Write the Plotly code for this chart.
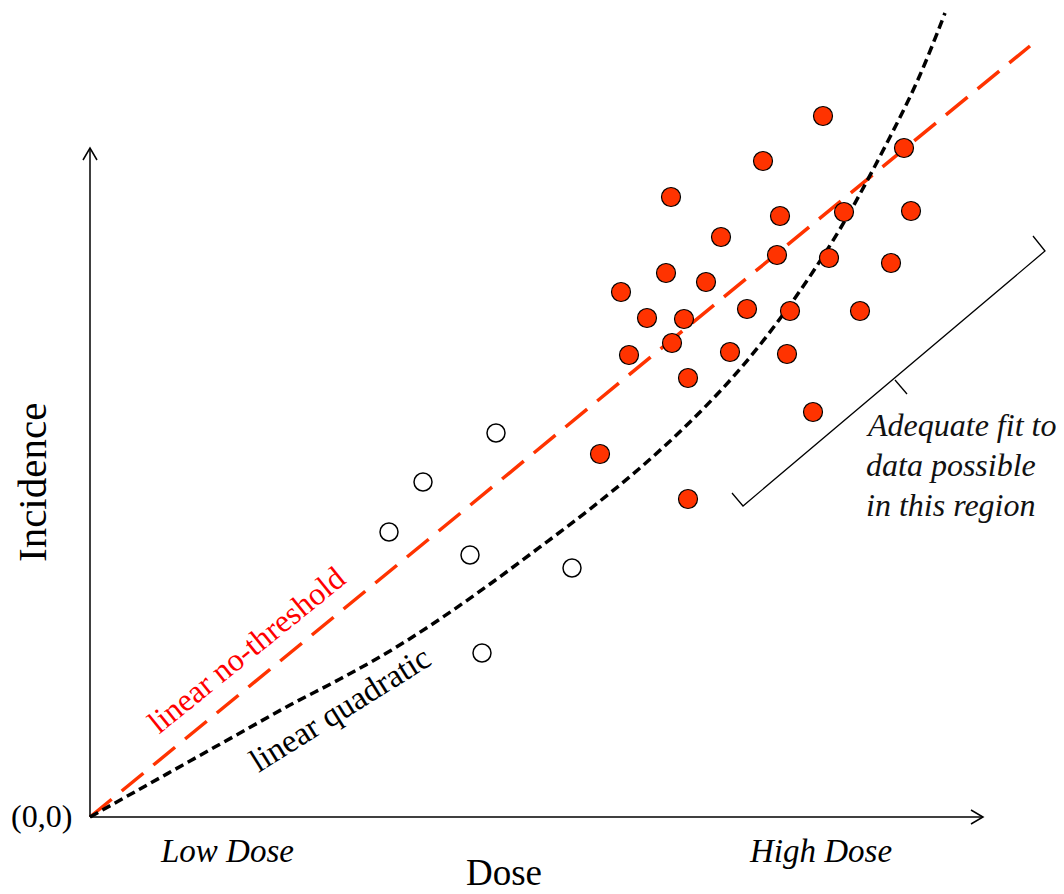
import plotly.graph_objects as go

# ---- data (dose, incidence) in chart units; origin at (0,0) ----
high_dose_x = [531, 539, 510, 557, 581, 576, 582, 594, 598, 598, 616, 631, 640, 657,
               673, 687, 690, 697, 700, 723, 733, 739, 754, 770, 801, 814, 821]
high_dose_y = [525, 462, 363, 499, 620, 544, 474, 498, 439, 318, 535, 580, 465, 508,
               656, 562, 601, 463, 506, 405, 701, 559, 605, 506, 554, 669, 606]

low_dose_x = [299, 333, 406, 380, 482, 392]
low_dose_y = [285, 335, 384, 262, 249, 164]

lnt_x = [0, 940]
lnt_y = [0, 771]

lq_x = [0, 50, 100, 150, 200, 250, 300, 350, 400, 450, 500, 550, 600, 650, 700, 750, 800, 830, 855]
lq_y = [0, 28, 56, 84, 112, 138, 166, 198, 233, 270, 308, 349, 395, 448, 512, 588, 680, 742, 804]

# axis extents (chart units)
x_axis_end = 893
y_axis_end = 669
arrow_len = 12
arrow_half = 7

# bracket ("adequate fit" region)
bracket_x = [642, 653, 955, 943]
bracket_y = [324, 311, 566, 581]
bracket_tick_x = [805, 817]
bracket_tick_y = [437, 423]

region_lines = ["Adequate fit to", "data possible", "in this region"]

FONT = "Liberation Serif"
RED = "#FF3300"

fig = go.Figure()

fig.add_trace(go.Scatter(x=lnt_x, y=lnt_y, mode="lines",
                         line=dict(color=RED, width=3.5, dash="28px,13px"),
                         hoverinfo="skip"))
fig.add_trace(go.Scatter(x=lq_x, y=lq_y, mode="lines", line_shape="spline",
                         line=dict(color="black", width=3.5, dash="9px,5px"),
                         hoverinfo="skip"))
fig.add_trace(go.Scatter(x=low_dose_x, y=low_dose_y, mode="markers",
                         marker=dict(size=18, color="white",
                                     line=dict(color="black", width=1.5))))
fig.add_trace(go.Scatter(x=high_dose_x, y=high_dose_y, mode="markers",
                         marker=dict(size=19, color=RED,
                                     line=dict(color="black", width=1.2))))

shapes = []
line_style = dict(color="black", width=1.5)
# x axis + arrowhead
shapes.append(dict(type="line", xref="x", yref="y", x0=0, y0=0, x1=x_axis_end, y1=0, line=line_style))
shapes.append(dict(type="path", xref="x", yref="y",
                   path=f"M {x_axis_end-arrow_len},{arrow_half} L {x_axis_end},0 L {x_axis_end-arrow_len},{-arrow_half}",
                   line=line_style))
# y axis + arrowhead
shapes.append(dict(type="line", xref="x", yref="y", x0=0, y0=0, x1=0, y1=y_axis_end, line=line_style))
shapes.append(dict(type="path", xref="x", yref="y",
                   path=f"M {-arrow_half},{y_axis_end-arrow_len} L 0,{y_axis_end} L {arrow_half},{y_axis_end-arrow_len}",
                   line=line_style))
# bracket
bp = "M " + " L ".join(f"{a},{b}" for a, b in zip(bracket_x, bracket_y))
shapes.append(dict(type="path", xref="x", yref="y", path=bp, line=dict(color="black", width=1.3)))
shapes.append(dict(type="line", xref="x", yref="y", x0=bracket_tick_x[0], y0=bracket_tick_y[0],
                   x1=bracket_tick_x[1], y1=bracket_tick_y[1], line=dict(color="black", width=1.3)))

annotations = [
    dict(text="(0,0)", x=-49, y=1, font=dict(size=32, color="black", family=FONT)),
    dict(text="<i>Low Dose</i>", x=137, y=-34, font=dict(size=33, color="black", family=FONT)),
    dict(text="<i>High Dose</i>", x=730, y=-34, font=dict(size=33, color="black", family=FONT)),
    dict(text="Dose", x=414, y=-55, font=dict(size=37, color="black", family=FONT)),
    dict(text="Incidence", x=-58, y=334, textangle=-90, font=dict(size=41, color="black", family=FONT)),
    dict(text="linear no-threshold", x=156, y=167, textangle=-39,
         font=dict(size=32, color="#FF0000", family=FONT)),
    dict(text="linear quadratic", x=250, y=108, textangle=-32,
         font=dict(size=33, color="black", family=FONT)),
]
for i, t in enumerate(region_lines):
    annotations.append(dict(text=f"<i>{t}</i>", x=775, y=392 - 40 * i, xanchor="left",
                            font=dict(size=32, color="#111111", family=FONT)))
for a in annotations:
    a.setdefault("xanchor", "center")
    a.setdefault("yanchor", "middle")
    a.update(xref="x", yref="y", showarrow=False, borderpad=0)

# page body has an 8px margin: the figure is 1056x886 and ranges account for it
fig.update_layout(
    width=1056, height=886,
    margin=dict(l=0, r=0, t=0, b=0),
    paper_bgcolor="white", plot_bgcolor="white",
    showlegend=False,
    xaxis=dict(range=[-82, 974], visible=False, fixedrange=True),
    yaxis=dict(range=[-77, 809], visible=False, fixedrange=True),
    shapes=shapes,
    annotations=annotations,
)

fig.write_html("out.html")
